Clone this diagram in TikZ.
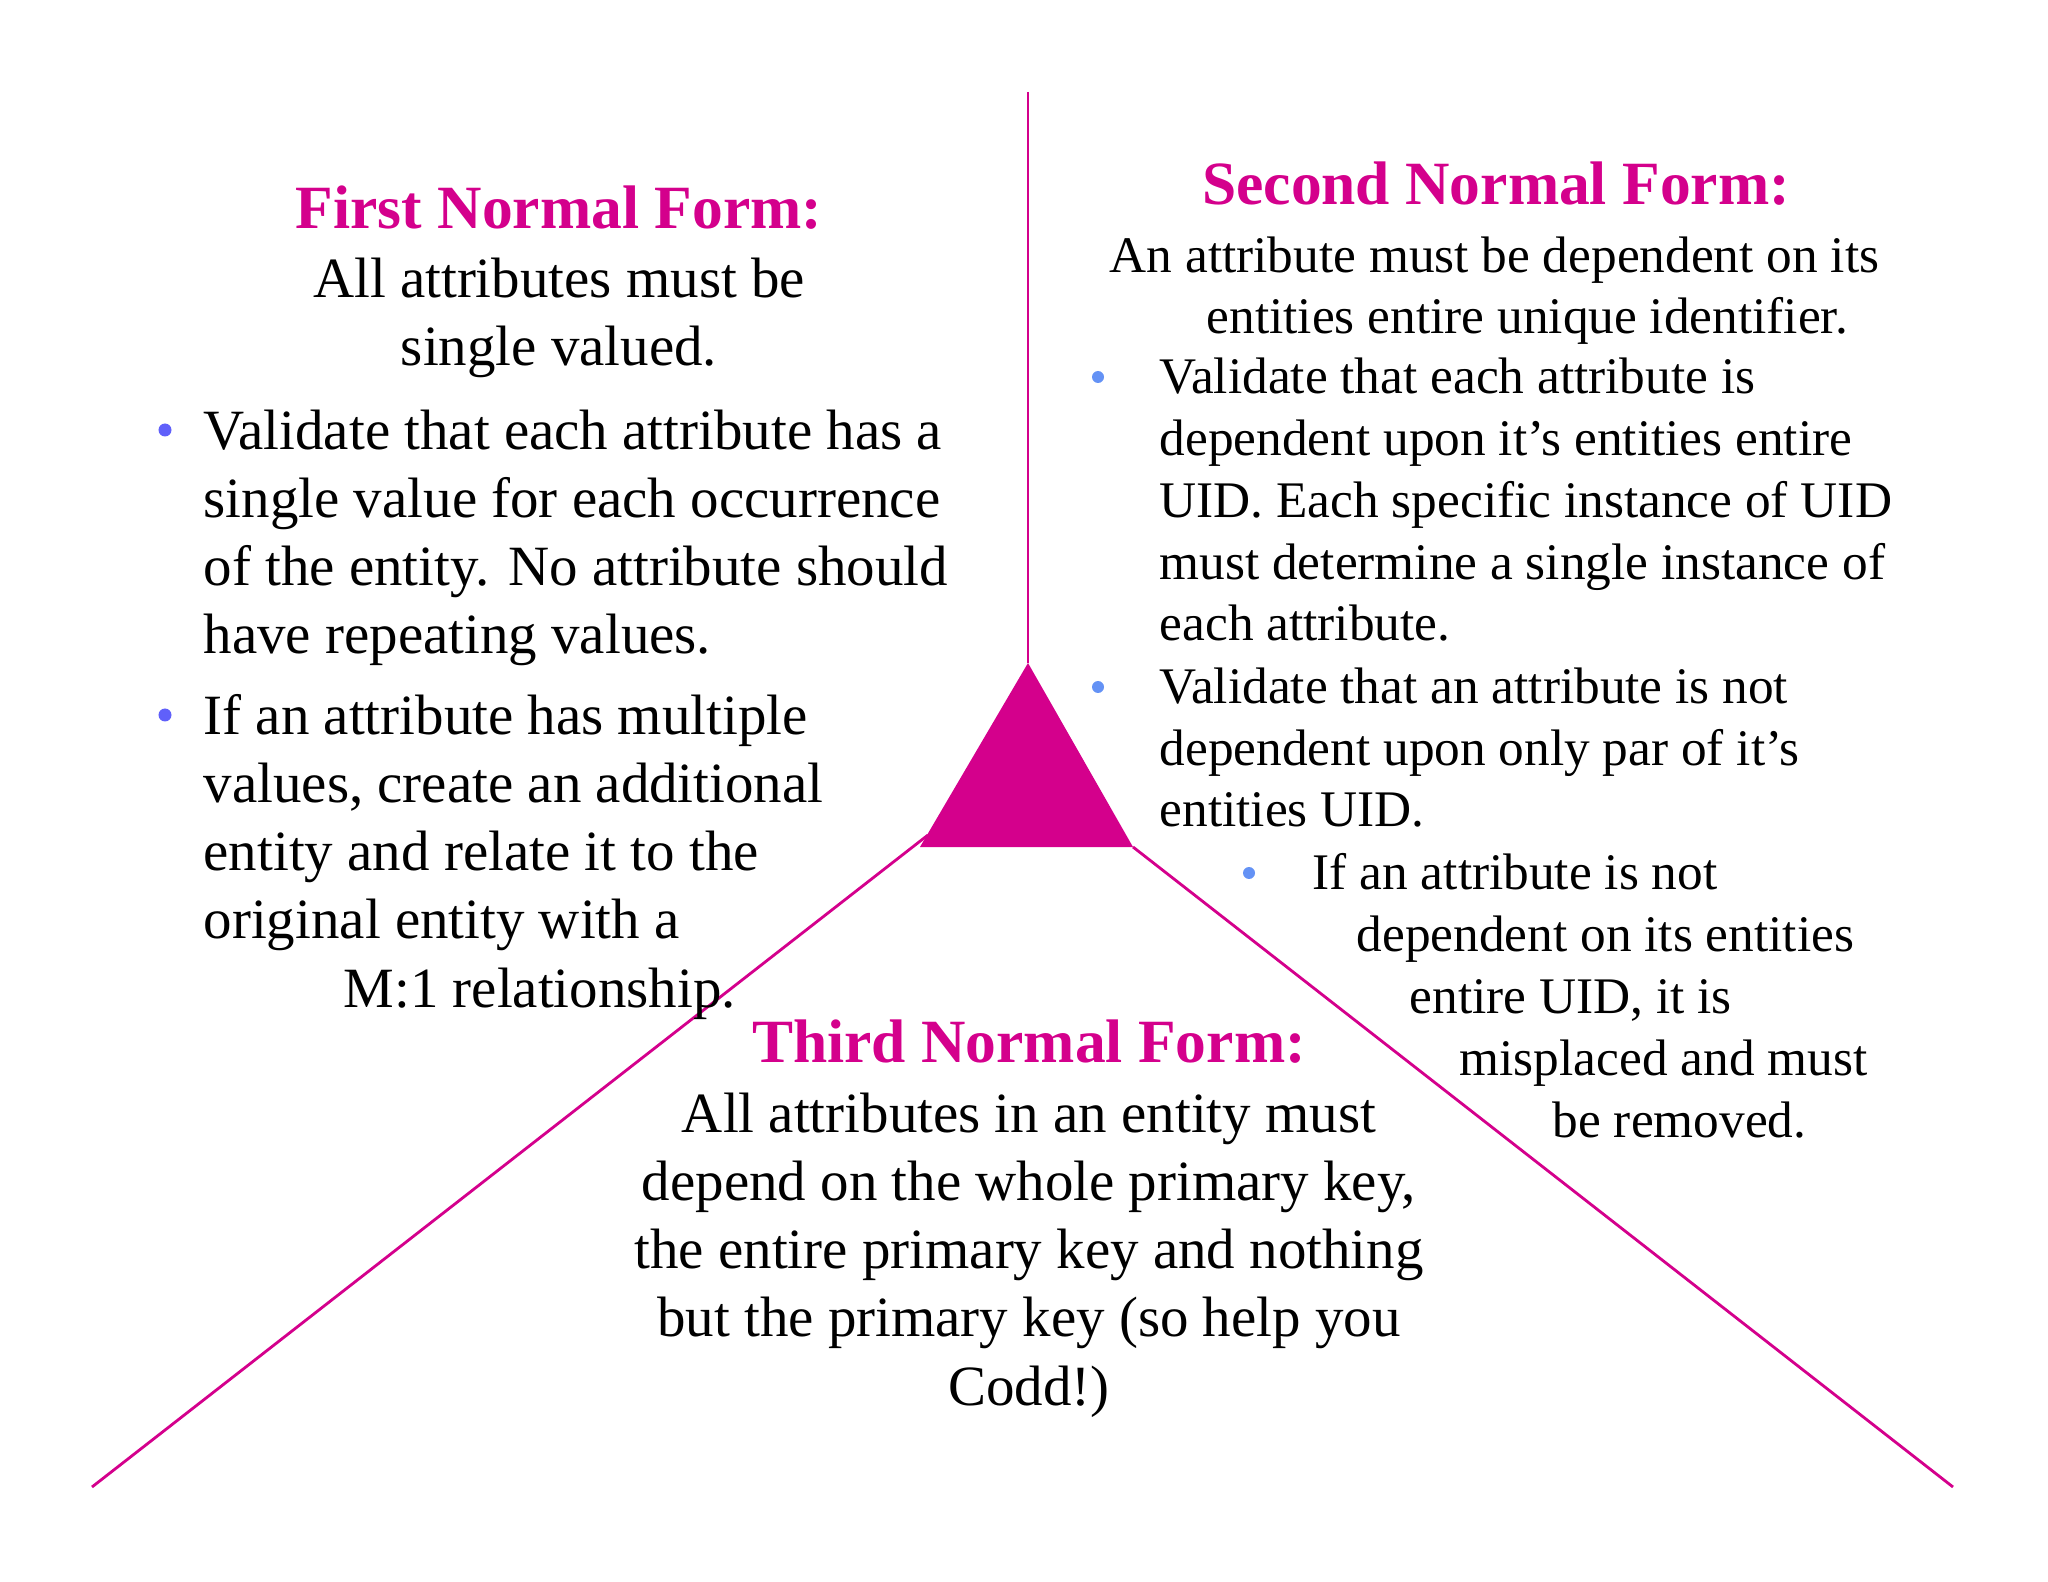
\documentclass[tikz,border=0pt]{standalone}
\usepackage{fontspec}
\setmainfont{Liberation Serif}

\definecolor{formpink}{RGB}{212,0,140}
\definecolor{dotleft}{RGB}{96,96,250}
\definecolor{dotright}{RGB}{100,146,245}

\tikzset{
  divider/.style={draw=formpink, line width=0.8pt},
  heading/.style={font=\fontsize{17.5}{21}\selectfont\bfseries, text=formpink, inner sep=0pt, anchor=base},
  bigtext/.style={font=\fontsize{16.2}{19.35}\selectfont, inner sep=0pt},
  smalltext/.style={font=\fontsize{14.6}{17.64}\selectfont, inner sep=0pt, anchor=base west, align=left},
}

\begin{document}
\begin{tikzpicture}[y=-1cm]
      \useasboundingbox (0,0) rectangle (20.48,15.82);

      \coordinate (top) at (10.28,0.92);
      \coordinate (apex) at (10.28,6.63);
      \coordinate (left) at (9.20,8.47);
      \coordinate (right) at (11.33,8.47);
      \coordinate (leftend) at (0.92,14.87);
      \coordinate (rightend) at (19.53,14.87);

      \draw[divider] (top) -- (apex);
      \draw[divider] (9.28,8.35) -- (leftend);
      \draw[divider] (right) -- (rightend);
      \fill[formpink] (apex) -- (left) -- (right) -- cycle;

      % first normal form (base = last line)
      \node[heading] (first) at (5.59,2.29) {First Normal Form:};
      \node[bigtext, anchor=base, align=center] (firstdef) at (5.59,3.66)
            {All attributes must be\\single valued.};
      \fill[dotleft] (1.65,4.30) circle[radius=0.065];
      \node[bigtext, anchor=base west, align=left] (firsta) at (2.03,6.54)
            {Validate that each attribute has a\\single value for each occurrence\\of the entity. No attribute should\\have repeating values.};
      \fill[dotleft] (1.65,7.15) circle[radius=0.065];
      \node[bigtext, anchor=base west, align=left] (firstb) at (2.03,10.07)
            {If an attribute has multiple\\values, create an additional\\entity and relate it to the\\original entity with a\\\hspace*{1.40cm}M:1 relationship.};

      % second normal form
      \node[heading] (second) at (14.96,2.05) {Second Normal Form:};
      \node[smalltext] (seconddef) at (11.09,3.34)
            {An attribute must be dependent on its\\\hspace*{0.97cm}entities entire unique identifier.};
      \fill[dotright] (10.98,3.77) circle[radius=0.06];
      \node[smalltext] (seconda) at (11.59,6.41)
            {Validate that each attribute is\\dependent upon it’s entities entire\\UID. Each specific instance of UID\\must determine a single instance of\\each attribute.};
      \fill[dotright] (10.98,6.87) circle[radius=0.06];
      \node[smalltext] (secondb) at (11.59,8.27)
            {Validate that an attribute is not\\dependent upon only par of it’s\\entities UID.};
      \fill[dotright] (12.49,8.73) circle[radius=0.06];
      \node[smalltext] (secondc) at (13.12,11.37)
            {If an attribute is not\\\hspace*{0.44cm}dependent on its entities\\\hspace*{0.97cm}entire UID, it is\\\hspace*{1.47cm}misplaced and must\\\hspace*{2.40cm}be removed.};

      % third normal form
      \node[heading] (third) at (10.29,10.62) {Third Normal Form:};
      \node[bigtext, anchor=base, align=center] (thirddef) at (10.29,14.05)
            {All attributes in an entity must\\depend on the whole primary key,\\the entire primary key and nothing\\but the primary key (so help you\\Codd!)};
\end{tikzpicture}
\end{document}
